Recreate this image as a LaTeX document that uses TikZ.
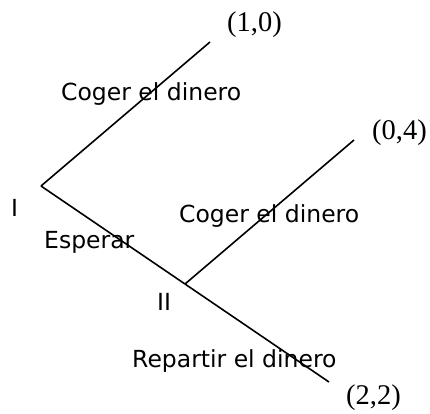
\documentclass[tikz,border=0pt]{standalone}
\usepackage{fontspec}
\setmainfont{Liberation Serif}
\newfontfamily\movefont{DejaVu Sans}
\begin{document}
\begin{tikzpicture}[x=1pt, y=-1pt, every node/.style={inner sep=0pt, anchor=base west},
    move/.style={font=\movefont\fontsize{23.5}{27}\selectfont},
    payoff/.style={font=\fontsize{28.5}{32}\selectfont},
    branch/.style={line width=1.6pt}]
    \useasboundingbox (0,0) rectangle (430,413);
    \coordinate (I) at (41,186);
    \coordinate (II) at (185,284);
    \coordinate (endA) at (210,42);
    \coordinate (endB) at (354,140);
    \coordinate (endC) at (329,382);

    \node[payoff] (payA) at (227,31) {(1,0)};
    \node[payoff] (payB) at (372,139) {(0,4)};
    \node[payoff] (payC) at (346,404) {(2,2)};

    \node[move] (takeI) at (61,100) {Coger el dinero};
    \node[move] (takeII) at (179,222) {Coger el dinero};
    \node[move] (wait) at (44,248) {Esperar};
    \node[move] (share) at (132,367) {Repartir el dinero};
    \node[move] (playerI) at (11,216) {I};
    \node[move] (playerII) at (157,310) {II};

    \draw[branch] (I) -- (endA);
    \draw[branch] (I) -- (II);
    \draw[branch] (II) -- (endB);
    \draw[branch] (II) -- (endC);
\end{tikzpicture}
\end{document}
